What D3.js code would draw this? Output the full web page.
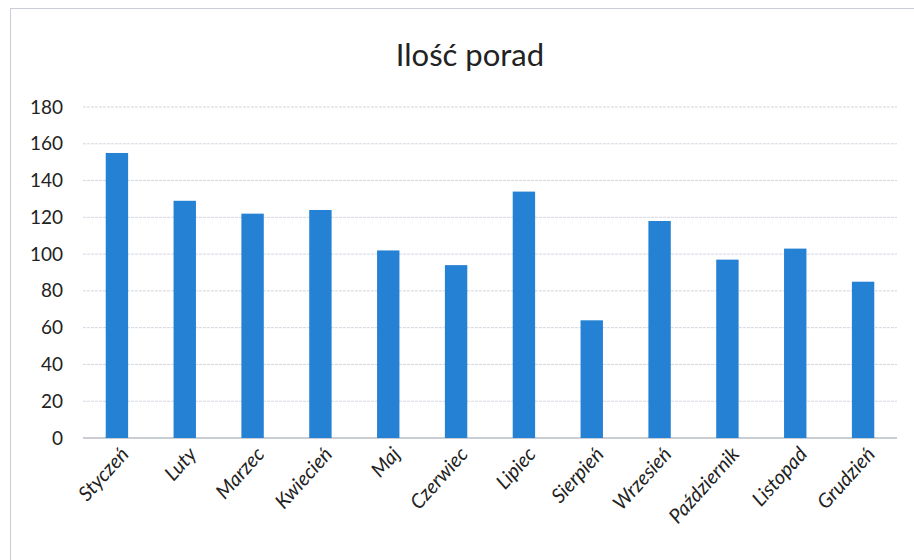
<!DOCTYPE html>
<html>
<head>
<meta charset="utf-8">
<script src="https://cdn.jsdelivr.net/npm/d3@7"></script>
<style>
  body { margin: 0; background: #fff; }
  svg { display: block; }
</style>
</head>
<body>
<div id="chart"></div>
<script>
const months = ['Styczeń', 'Luty', 'Marzec', 'Kwiecień', 'Maj', 'Czerwiec',
  'Lipiec', 'Sierpień', 'Wrzesień', 'Październik', 'Listopad', 'Grudzień']
const counts = [155, 129, 122, 124, 102, 94, 134, 64, 118, 97, 103, 85]
const yTicks = [0, 20, 40, 60, 80, 100, 120, 140, 160, 180]

const width = 914
const height = 560
const margin = { top: 107, right: 17, bottom: 122, left: 83 }
const font = 'Lato, "Open Sans", sans-serif'

const svg = d3.select('#chart')
  .append('svg')
  .attr('width', width)
  .attr('height', height)

// ramka wykresu (skan)
svg.append('rect')
  .attr('x', 10.5).attr('y', 8.5)
  .attr('width', width + 20).attr('height', height)
  .attr('fill', 'none')
  .attr('stroke', '#c9cdd6')
  .attr('stroke-width', 1)

const x = d3.scaleBand()
  .domain(months)
  .range([margin.left, width - margin.right])
  .paddingInner(0.67)
  .paddingOuter(0.335)

const y = d3.scaleLinear()
  .domain([0, 180])
  .range([height - margin.bottom, margin.top])

svg.append('text')
  .attr('x', 470)
  .attr('y', 66)
  .attr('text-anchor', 'middle')
  .attr('font-family', font)
  .attr('font-size', 31)
  .attr('fill', '#222')
  .text('Ilość porad')

// linie siatki
svg.append('g')
  .selectAll('line')
  .data(yTicks)
  .enter().append('line')
  .attr('x1', margin.left)
  .attr('x2', width - margin.right)
  .attr('y1', d => y(d))
  .attr('y2', d => y(d))
  .attr('stroke', d => d === 0 ? '#b8bcc4' : '#d4d7de')
  .attr('stroke-width', d => d === 0 ? 1.5 : 1)
  .attr('stroke-dasharray', d => d === 0 ? null : '3,1')

const yAxis = d3.axisLeft(y)
  .tickValues(yTicks)
  .tickSize(0)
  .tickPadding(20)

svg.append('g')
  .attr('transform', `translate(${margin.left},0)`)
  .call(yAxis)
  .call(g => g.select('.domain').remove())
  .call(g => g.selectAll('text')
    .attr('font-family', font)
    .attr('font-size', 19)
    .attr('fill', '#222'))

svg.append('g')
  .selectAll('rect')
  .data(counts)
  .enter().append('rect')
  .attr('x', (d, i) => x(months[i]))
  .attr('width', x.bandwidth())
  .attr('y', d => y(d))
  .attr('height', d => y(0) - y(d))
  .attr('fill', '#2581d3')

const xAxis = d3.axisBottom(x).tickSize(0).tickPadding(0)

svg.append('g')
  .attr('transform', `translate(0,${y(0)})`)
  .call(xAxis)
  .call(g => g.select('.domain').remove())
  .call(g => g.selectAll('text')
    .attr('font-family', font)
    .attr('font-size', 20)
    .attr('font-style', 'italic')
    .attr('fill', '#222')
    .attr('text-anchor', 'end')
    .attr('dy', null)
    .attr('transform', 'translate(13,17) rotate(-48)'))
</script>
</body>
</html>
